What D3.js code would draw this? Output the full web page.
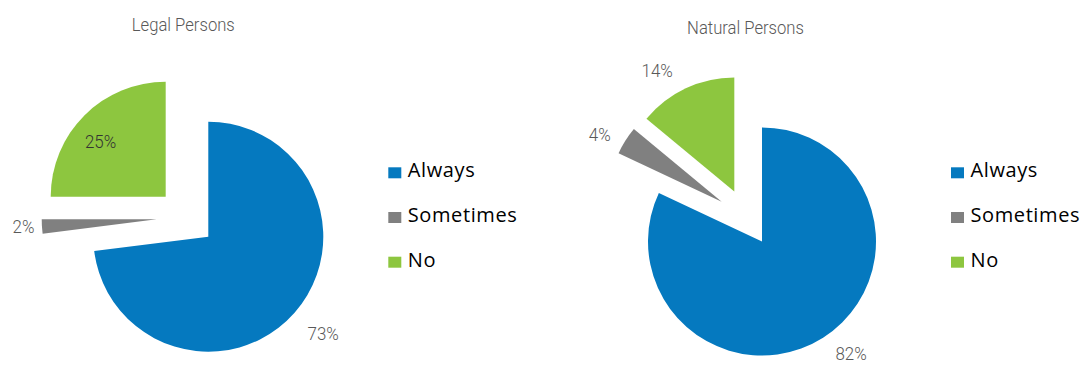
<!DOCTYPE html>
<html><head><meta charset="utf-8">
<script src="https://cdn.jsdelivr.net/npm/d3@7"></script>
<style>
html,body{margin:0;padding:0;background:#fff;}
svg{display:block;}
.title{font-family:Roboto,"Liberation Sans",sans-serif;font-weight:300;font-size:18.5px;fill:#595959;}
.lbl{font-family:Roboto,"Liberation Sans",sans-serif;font-weight:300;font-size:18px;}
.leg{font-family:"Open Sans","Noto Sans",sans-serif;font-size:20px;fill:#000;letter-spacing:0.6px;}
</style></head>
<body>
<script>
// ---- data ----
const categories = ["Always", "Sometimes", "No"];
const legalValues = [73, 2, 25];
const naturalValues = [82, 4, 14];
const chartTitles = ["Legal Persons", "Natural Persons"];
const colors = ["#0579BF", "#808080", "#8DC63F"];

// ---- layout ----
const W = 1086, H = 365;
const charts = [
  { title: chartTitles[0], values: legalValues, cx: 208.3, cy: 236.7, r: 115,
    titleX: 183.3, titleY: 31.3,
    explode: [[0,0],[-51.6,-17.4],[-42.6,-40]],
    labelPos: [[130.1,1.306],[266.8,1.16],[310,0.74]],
    labelFill: ["#595959","#595959","#333333"],
    legendX: 388.3 },
  { title: chartTitles[1], values: naturalValues, cx: 762, cy: 241.5, r: 114,
    titleX: 745.5, titleY: 34,
    explode: [[0,0],[-40.3,-39.8],[-27.7,-50]],
    labelPos: [[141.7,1.26],[298.7,1.22],[327.5,1.26]],
    labelFill: ["#595959","#595959","#595959"],
    legendX: 951 }
];

const svg = d3.select("body").append("svg").attr("width", W).attr("height", H);
const pie = d3.pie().sort(null).value(d => d);

charts.forEach(c => {
  const g = svg.append("g");
  const arc = d3.arc().innerRadius(0).outerRadius(c.r);
  const arcs = pie(c.values);
  g.selectAll("path.slice").data(arcs).enter().append("path")
    .attr("class", "slice")
    .attr("transform", (d, i) => `translate(${c.cx + c.explode[i][0]},${c.cy + c.explode[i][1]})`)
    .attr("d", arc)
    .attr("fill", (d, i) => colors[i]);

  g.selectAll("text.lbl").data(arcs).enter().append("text")
    .attr("class", "lbl")
    .attr("text-anchor", "middle")
    .attr("dominant-baseline", "central")
    .attr("transform", (d, i) => {
      const a = c.labelPos[i][0] * Math.PI / 180;
      const x = c.cx + c.explode[i][0] + Math.sin(a) * c.r * c.labelPos[i][1];
      const y = c.cy + c.explode[i][1] - Math.cos(a) * c.r * c.labelPos[i][1];
      return `translate(${x},${y}) scale(0.94,1)`;
    })
    .style("fill", (d, i) => c.labelFill[i])
    .text(d => d3.format(".0f")(d.data) + "%");

  g.append("text").attr("class", "title")
    .attr("transform", `translate(${c.titleX},${c.titleY}) scale(0.9,1)`)
    .attr("text-anchor", "middle")
    .text(c.title);

  const ly = d3.scalePoint().domain(categories).range([172.8, 262.2]);
  const leg = g.selectAll("g.legitem").data(categories).enter().append("g")
    .attr("transform", d => `translate(${c.legendX},${ly(d)})`);
  leg.append("rect").attr("x", 0).attr("y", -5.5).attr("width", 13).attr("height", 11)
    .attr("fill", (d, i) => colors[i]);
  leg.append("text").attr("class", "leg").attr("x", 19.5).attr("y", 4.6).text(d => d);
});
</script>
</body></html>
